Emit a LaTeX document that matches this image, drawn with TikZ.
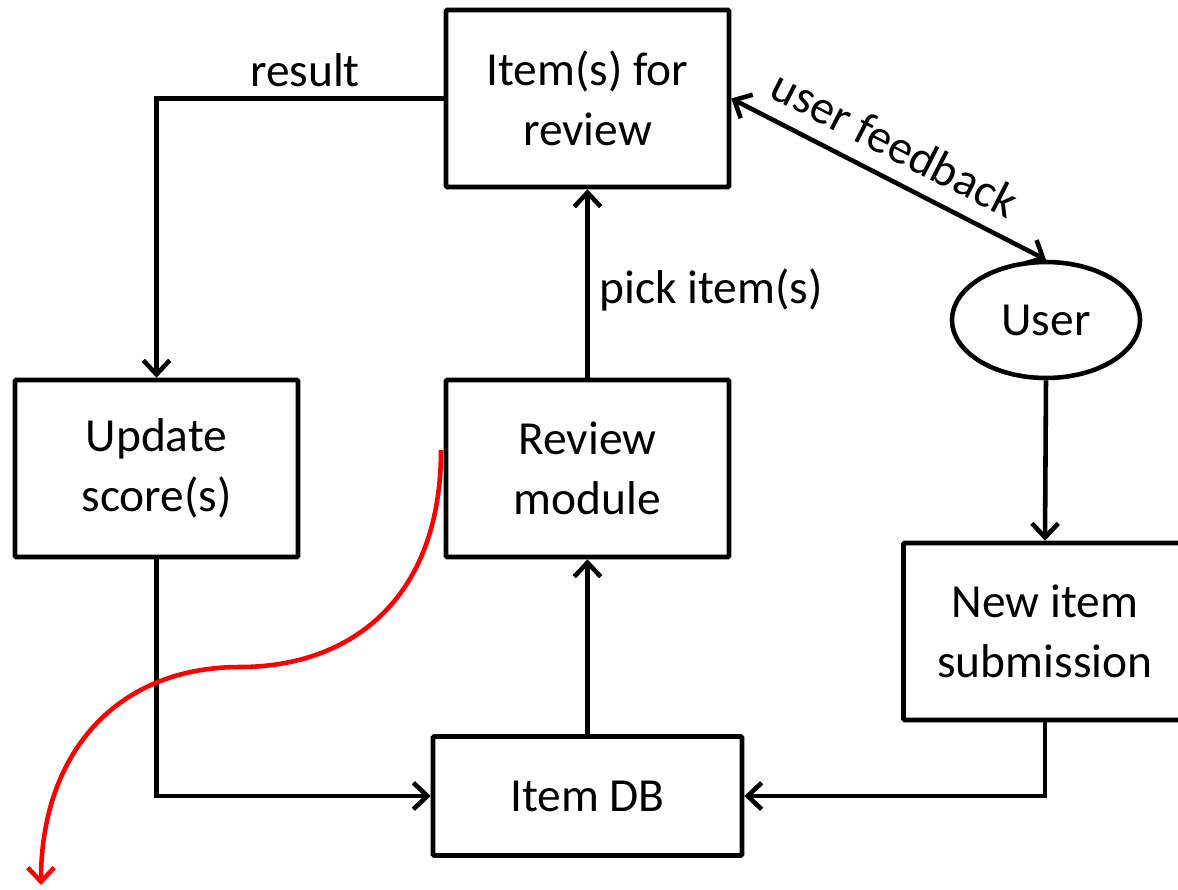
\documentclass[tikz,border=0pt]{standalone}
\usepackage{fontspec}
\setmainfont{Carlito}
\usetikzlibrary{arrows.meta,shapes.geometric}
\begin{document}
\begin{tikzpicture}[x=0.02cm,y=-0.02cm,
  txt/.style={font=\fontsize{27}{34}\selectfont, align=center},
  box/.style={txt, draw, line width=2.6pt, minimum width=5.66cm, minimum height=3.54cm, inner sep=0pt, rounded corners=0.6pt},
  lbl/.style={txt, inner sep=0pt},
  tip/.tip={Straight Barb[length=8pt,width=15pt]},
  conn/.style={line width=2.6pt, -tip},
  biconn/.style={line width=2.6pt, tip-tip}
]
\useasboundingbox (0,0) rectangle (1178,890);
\node[box] (items) at (587.5,98.5) {Item(s) for\\review};
\node[box] (update) at (156.5,468.5) {Update\\score(s)};
\node[box] (review) at (587.5,468.5) {Review\\module};
\node[box, minimum width=6.18cm, minimum height=2.38cm] (db) at (587.5,796) {Item DB};
\node[box] (newitem) at (1045,631.5) {New item\\submission};
\node[txt, draw, ellipse, line width=2.6pt, minimum width=3.76cm, minimum height=2.32cm, inner sep=0pt] (user) at (1046,320) {User};

\node[lbl] (lres) at (305,70) {result};
\node[lbl] (lpick) at (711,290) {pick item(s)};

\draw[conn] (items.west) -| (update.north);
\draw[conn] (update.south) |- (db.west);
\draw[conn] (db.north) -- (review.south);
\draw[conn] (review.north) -- (items.south);
\draw[biconn] (items.east) -- node[lbl, sloped, above, yshift=9pt, pos=0.47] (lfb) {user feedback} (user.north);
\draw[conn] (user.south) -- (newitem.north);
\draw[conn] (newitem.south) |- (db.east);

\coordinate (rs) at (441,450);
\coordinate (rm) at (240,667);
\coordinate (re) at (41,885);
\draw[red, line width=2.6pt, -tip] (rs) .. controls (441,600) and (350,667) .. (rm) .. controls (115,667) and (41,755) .. (re);
\end{tikzpicture}
\end{document}
